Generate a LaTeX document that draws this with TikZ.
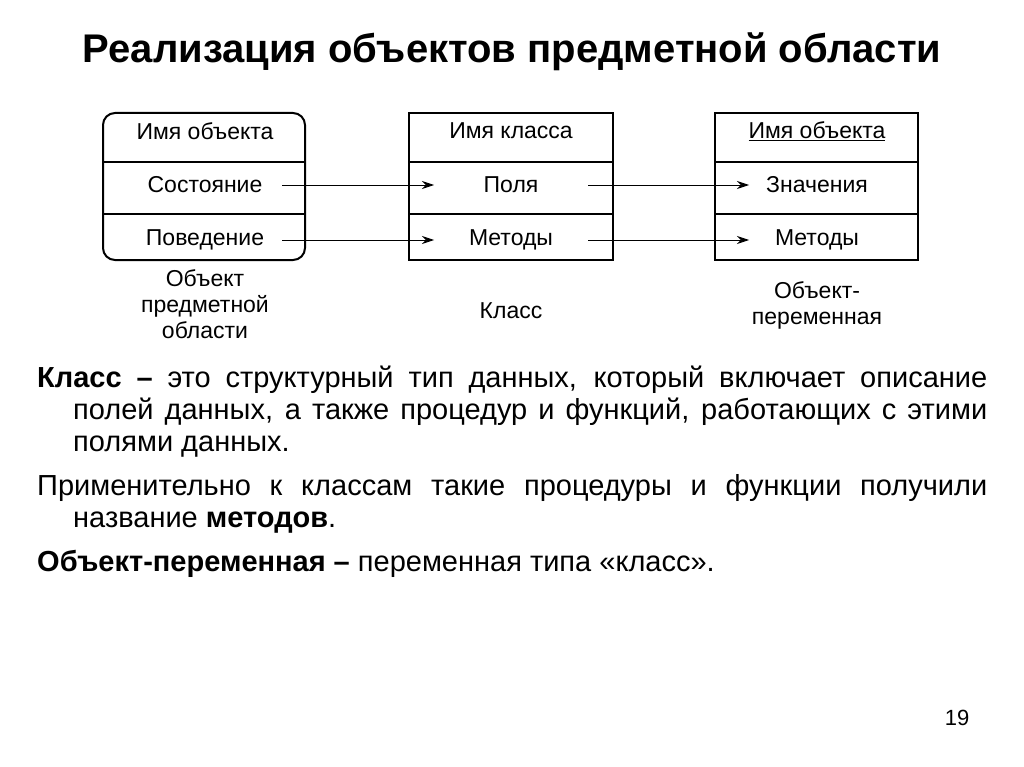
\documentclass[tikz,border=0pt]{standalone}
\usepackage{fontspec}
\setmainfont{Liberation Sans}
\usetikzlibrary{arrows.meta}
\begin{document}
\begin{tikzpicture}[x=1pt,y=-1pt,
  box/.style={draw,line width=1.1pt},
  lbl/.style={font=\fontsize{23}{26}\selectfont,align=center},
  arr/.style={line width=0.9pt,-{Stealth[length=12pt,width=8pt]}}]
\useasboundingbox (0,0) rectangle (1024,767);
\node[font=\bfseries\fontsize{40}{44}\selectfont] (title) at (512,52) {Реализация объектов предметной области};
\draw[box,line width=2pt,rounded corners=12pt] (103,113) rectangle (305,260);
\draw[box] (103,162) -- (305,162) (103,214) -- (305,214);
\draw[box] (409,113) rectangle (613,260);
\draw[box] (409,162) -- (613,162) (409,214) -- (613,214);
\draw[box] (715,113) rectangle (918,260);
\draw[box] (715,162) -- (918,162) (715,214) -- (918,214);
\node[lbl] (a1) at (205,131) {Имя объекта};
\node[lbl] (a2) at (205,185) {Состояние};
\node[lbl] (a3) at (205,240) {Поведение};
\node[lbl] (b1) at (511,131) {Имя класса};
\node[lbl] (b2) at (511,185) {Поля};
\node[lbl] (b3) at (511,240) {Методы};
\node[lbl] (c1) at (817,131) {\underline{Имя объекта}};
\node[lbl] (c2) at (817,185) {Значения};
\node[lbl] (c3) at (817,240) {Методы};
\coordinate (p1) at (282,185); \coordinate (q1) at (434,185);
\coordinate (p2) at (282,240); \coordinate (q2) at (434,240);
\coordinate (p3) at (588,185); \coordinate (q3) at (749,185);
\coordinate (p4) at (588,240); \coordinate (q4) at (749,240);
\draw[arr] (p1) -- (q1);
\draw[arr] (p2) -- (q2);
\draw[arr] (p3) -- (q3);
\draw[arr] (p4) -- (q4);
\node[lbl] (l1) at (205,304) {Объект\\предметной\\области};
\node[lbl] (l2) at (511,311) {Класс};
\node[lbl] (l3) at (817,305) {Объект-\\переменная};
\node[anchor=north west,inner sep=0pt,text width=950pt,align=justify,font=\fontsize{29}{32}\selectfont] (txt) at (37,366) {%
\hangindent=36pt\hangafter=1 \textbf{Класс –} это структурный тип данных, который включает описание полей данных, а также процедур и функций, работающих с этими полями данных.\par\vspace{12pt}
\hangindent=36pt\hangafter=1 Применительно к классам такие процедуры и функции получили название \textbf{методов}.\par\vspace{12pt}
\hangindent=36pt\hangafter=1 \textbf{Объект-переменная –} переменная типа «класс».\par};
\node[font=\fontsize{22}{24}\selectfont] (pg) at (957,718) {19};
\end{tikzpicture}
\end{document}
